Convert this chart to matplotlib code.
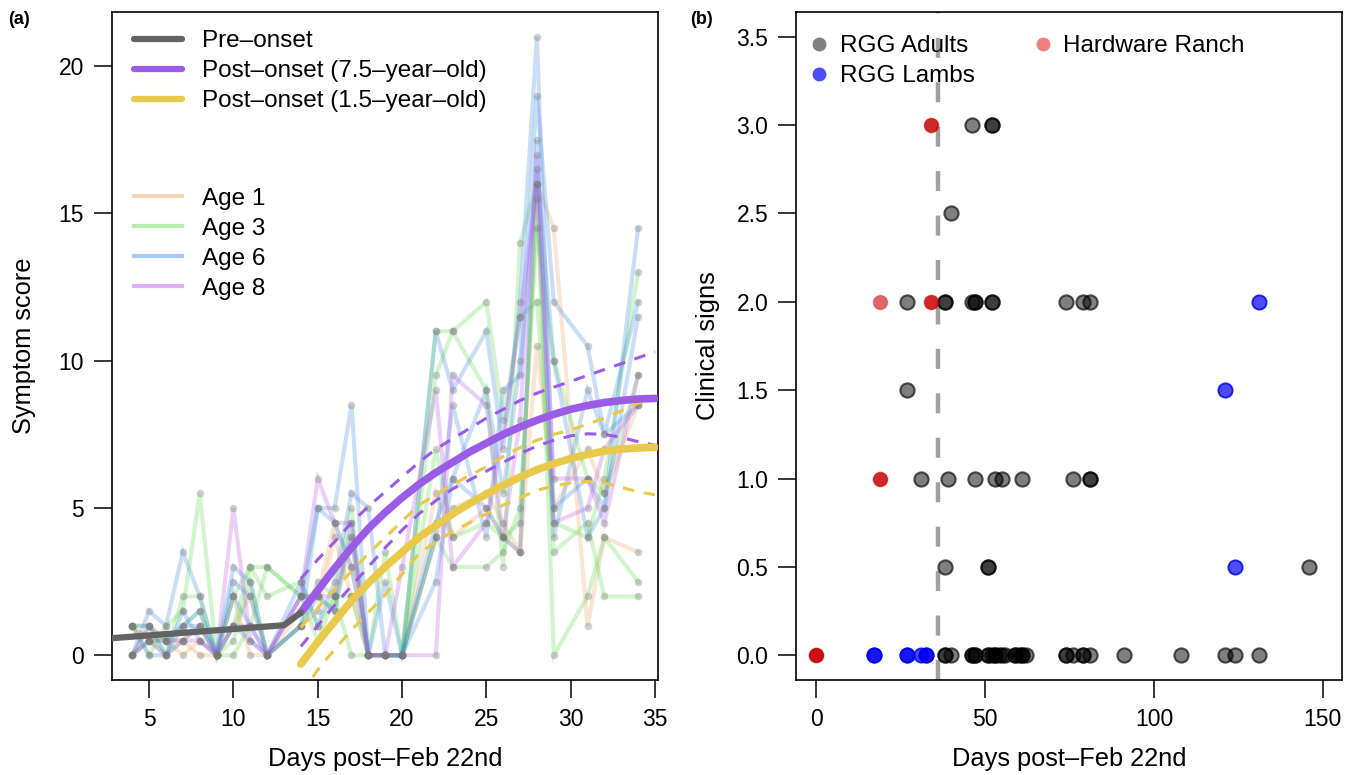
import matplotlib
matplotlib.use('Agg')
import matplotlib.pyplot as plt
from matplotlib.lines import Line2D

plt.rcParams['font.family'] = ['Liberation Sans', 'DejaVu Sans']

# ---------------- panel (a) data ----------------
days = [4, 5, 6, 7, 8, 9, 10, 11, 12, 14, 15, 16, 17, 18, 19, 20, 22, 23, 25, 26, 27, 28, 29, 31, 32, 34]

# individual animals, symptom score per day
age1 = [
    [1, 0.5, 0.5, 0, 0.5, 0, 1, 2, 0, 1.5, 2, 4.5, 3, 0, 0, 0, 5.5, 4, 5, 4, 3.5, 16, 14.5, 1, 4, 3.5],
    [1, 0.5, 0.5, 0.5, 0, 0, 2, 0, 0, 1, 1.5, 4, 2, 0, 0, 0, 4, 5, 5.5, 4.5, 3.5, 10.5, 5, 7, 5.5, 8.5],
]
age3 = [
    [1, 0, 1, 1.5, 5.5, 0, 1, 3, 2, 2.5, 1, 2, 5, 0, 0, 0, 9.5, 11, 9, 3, 14, 16, 0, 2, 4, 2.5],
    [0, 1, 0, 2, 2, 0, 2, 3, 3, 2, 2, 1.5, 4, 0, 3.5, 0, 7, 4, 4.5, 4, 4.5, 15.5, 3.5, 4.5, 2, 2],
    [0, 0.5, 0, 0.5, 1, 0, 0, 1, 3, 2, 0.5, 2, 0, 0, 0, 0, 11, 11, 12, 8, 11.5, 12, 4.5, 4, 6, 13],
    [1, 1, 0.5, 1, 1.5, 0, 0.5, 2.5, 0, 1, 2.5, 2, 2, 0, 0, 0, 4, 3, 3, 3.5, 5, 14.5, 10, 6, 5.5, 9.5],
]
age6 = [
    [0, 1.5, 1, 3.5, 2, 0, 2.5, 2, 0, 1, 5, 5, 8.5, 0, 0, 0, 11, 9, 11, 7, 12, 21, 5, 6, 5, 14.5],
    [1, 0, 0, 1, 1, 0, 3, 2.5, 0, 2.5, 1, 2.5, 5.5, 5, 0, 0, 4.5, 6, 9, 5.5, 10, 19, 12, 10.5, 7.5, 12],
    [0, 0.5, 0.5, 1, 1.5, 0, 1, 0.5, 0, 1, 2, 1.5, 4.5, 0, 2.5, 0, 4, 8.5, 4, 9, 9.5, 16.5, 10, 4, 5, 11.5],
    [1, 1, 0, 1.5, 0.5, 0, 2, 1, 0, 2, 5, 4.5, 3, 0, 0, 0, 2.5, 6, 5, 4, 3.5, 17.5, 4, 9, 7.5, 8.5],
]
age8 = [
    [0, 0.5, 0, 0.5, 0.5, 0, 5, 0.5, 0, 2, 6, 4.5, 4.5, 0, 0, 0, 0, 9.5, 8.5, 4, 8, 17, 6, 6, 4.5, 9.5],
    [0, 1, 0.5, 0.5, 1, 0, 1, 1, 0, 2, 2, 2, 4, 0, 0, 3, 9, 3, 4.5, 7.5, 11.5, 16, 4.5, 5, 7, 8.5],
]
age_labels = ['Age 1', 'Age 3', 'Age 6', 'Age 8']
age_colors = ['#F0A060', '#58D848', '#3A88E0', '#B850E8']

# fitted curves
pre_days = [2.8, 13, 14]
pre_vals = [0.58, 1.02, 1.45]

fit_days = [14, 15, 16, 17, 18, 19, 20, 21, 22, 23, 24, 25, 26, 27, 28, 29, 30, 31, 32, 33, 34, 35]
old_fit = [1.45, 2.2, 2.95, 3.65, 4.3, 4.85, 5.35, 5.8, 6.2, 6.55, 6.9, 7.2, 7.5, 7.75, 7.98, 8.18,
           8.35, 8.48, 8.58, 8.65, 8.7, 8.72]
old_hi = [2.6, 3.25, 3.85, 4.5, 5.05, 5.55, 6.05, 6.55, 7.0, 7.35, 7.7, 8.05, 8.35, 8.65, 8.9, 9.1,
          9.3, 9.5, 9.7, 9.9, 10.1, 10.3]
old_lo = [0.3, 1.0, 1.7, 2.35, 3.0, 3.65, 4.25, 4.8, 5.25, 5.65, 5.95, 6.25, 6.55, 6.85, 7.1, 7.3,
          7.45, 7.52, 7.5, 7.4, 7.25, 7.13]
young_fit = [-0.3, 0.45, 1.15, 1.85, 2.45, 3.0, 3.5, 4.0, 4.4, 4.8, 5.15, 5.47, 5.77, 6.05, 6.3, 6.5,
             6.68, 6.82, 6.93, 7.0, 7.04, 7.06]
young_hi = [0.95, 1.6, 2.25, 2.85, 3.45, 4.0, 4.55, 5.1, 5.45, 5.8, 6.1, 6.4, 6.75, 7.05, 7.3, 7.5,
            7.65, 7.85, 8.05, 8.3, 8.55, 8.75]
young_lo = [-1.35, -0.5, 0.2, 0.85, 1.45, 2.05, 2.75, 3.45, 3.85, 4.2, 4.5, 4.8, 5.1, 5.35, 5.6, 5.75,
            5.85, 5.9, 5.85, 5.7, 5.55, 5.45]

# ---------------- panel (b) data ----------------
adult_days = [38, 38, 40, 46, 46, 47, 47, 51, 51, 52, 53, 53, 54, 55, 56, 59, 59, 60, 61, 61, 62,
              74, 74, 76, 79, 79, 81, 91, 108, 121, 124, 131,
              38, 51, 51, 146,
              31, 39, 47, 53, 55, 61, 76, 81, 81,
              27,
              27, 38, 38, 46, 47, 47, 52, 52, 74, 79, 81,
              40,
              46, 52, 52]
adult_signs = [0, 0, 0, 0, 0, 0, 0, 0, 0, 0, 0, 0, 0, 0, 0, 0, 0, 0, 0, 0, 0,
               0, 0, 0, 0, 0, 0, 0, 0, 0, 0, 0,
               0.5, 0.5, 0.5, 0.5,
               1, 1, 1, 1, 1, 1, 1, 1, 1,
               1.5,
               2, 2, 2, 2, 2, 2, 2, 2, 2, 2, 2,
               2.5,
               3, 3, 3]
lamb_days = [17, 17, 27, 27, 31, 32.5, 32.5, 124, 121, 131]
lamb_signs = [0, 0, 0, 0, 0, 0, 0, 0.5, 1.5, 2]
ranch_days = [0, 0, 0, 19, 19, 19, 34, 34, 34, 34]
ranch_signs = [0, 0, 0, 1, 1, 2, 2, 2, 3, 3]
onset_day = 36

PURPLE = '#9A5BE6'
YELLOW = '#E8C94A'
GREY = '#636363'

fig = plt.figure(figsize=(13.54, 7.75), dpi=100)
axa = fig.add_axes([112 / 1354, 95 / 775, 546 / 1354, 668 / 775])
axb = fig.add_axes([796 / 1354, 95 / 775, 546 / 1354, 668 / 775])


def style_axes(ax):
    for s in ax.spines.values():
        s.set_linewidth(1.2)
    ax.tick_params(direction='out', length=13, width=1.1, labelsize=16.5, pad=7)


# ---- (a) ----
groups = [age1, age3, age6, age8]
for series, col in zip(groups, age_colors):
    for vals in series:
        axa.plot(days, vals, color=col, alpha=0.27, lw=3, solid_joinstyle='miter', zorder=2)
        axa.plot(days, vals, ls='none', marker='o', ms=5.5, color='#7a7a7a', alpha=0.35,
                 mec='none', zorder=3)

dash = (3.8, 3.2)
axa.plot(fit_days, old_hi, color=PURPLE, lw=2.2, ls=(0, dash), zorder=4)
axa.plot(fit_days, old_lo, color=PURPLE, lw=2.2, ls=(0, dash), zorder=4)
axa.plot(fit_days, young_hi, color=YELLOW, lw=2.2, ls=(0, dash), zorder=4)
axa.plot(fit_days, young_lo, color=YELLOW, lw=2.2, ls=(0, dash), zorder=4)
axa.plot(fit_days, young_fit, color=YELLOW, lw=5.5, solid_capstyle='round', zorder=5)
axa.plot(fit_days, old_fit, color=PURPLE, lw=5.5, solid_capstyle='round', zorder=5)
axa.plot(pre_days, pre_vals, color=GREY, lw=4.5, solid_capstyle='round', zorder=6)

axa.set_xlim(2.8, 35.18)
axa.set_ylim(-0.84, 21.84)
axa.set_xticks([5, 10, 15, 20, 25, 30, 35])
axa.set_yticks([0, 5, 10, 15, 20])
style_axes(axa)
axa.set_xlabel('Days post\u2013Feb 22nd', fontsize=18.3)
axa.set_ylabel('Symptom score', fontsize=18.3)
axa.xaxis.set_label_coords(0.5, -0.1)
axa.yaxis.set_label_coords(-0.14, 0.5)

fit_handles = [Line2D([], [], color=GREY, lw=4.5, solid_capstyle='round'),
               Line2D([], [], color=PURPLE, lw=4.5, solid_capstyle='round'),
               Line2D([], [], color=YELLOW, lw=4.5, solid_capstyle='round')]
leg1 = axa.legend(fit_handles, ['Pre\u2013onset', 'Post\u2013onset (7.5\u2013year\u2013old)',
                                'Post\u2013onset (1.5\u2013year\u2013old)'],
                  loc='upper left', bbox_to_anchor=(0.04, 0.973), frameon=False, fontsize=17.5,
                  handlelength=2.0, handletextpad=0.8, labelspacing=0.33, borderpad=0,
                  borderaxespad=0)
axa.add_artist(leg1)
age_handles = [Line2D([], [], color=c, lw=3, alpha=0.45) for c in age_colors]
axa.legend(age_handles, age_labels, loc='upper left', bbox_to_anchor=(0.04, 0.737),
           frameon=False, fontsize=17.5, handlelength=2.0, handletextpad=0.8,
           labelspacing=0.33, borderpad=0, borderaxespad=0)

# ---- (b) ----
axb.axvline(onset_day, color='#A0A0A0', lw=3.2, ls=(0, (4.5, 5.5)), zorder=1)
axb.scatter(adult_days, adult_signs, s=105, facecolor=(0, 0, 0, 0.5),
            edgecolor=(0, 0, 0, 0.65), linewidth=1.5, zorder=3)
axb.scatter(lamb_days, lamb_signs, s=105, facecolor=(0, 0, 0.95, 0.7),
            edgecolor=(0, 0, 0.95, 0.85), linewidth=1.3, zorder=3)
axb.scatter(ranch_days, ranch_signs, s=105, facecolor=(0.78, 0, 0, 0.6),
            edgecolor=(0.78, 0, 0, 0.3), linewidth=1.0, zorder=3)

axb.set_xlim(-6, 155.7)
axb.set_ylim(-0.14, 3.64)
axb.set_xticks([0, 50, 100, 150])
axb.set_yticks([0, 0.5, 1, 1.5, 2, 2.5, 3, 3.5])
axb.set_yticklabels(['0.0', '0.5', '1.0', '1.5', '2.0', '2.5', '3.0', '3.5'])
style_axes(axb)
axb.set_xlabel('Days post\u2013Feb 22nd', fontsize=18.3)
axb.set_ylabel('Clinical signs', fontsize=18.3)
axb.xaxis.set_label_coords(0.5, -0.1)
axb.yaxis.set_label_coords(-0.14, 0.5)

pop_handles = [Line2D([], [], ls='none', marker='o', ms=10, color='#808080', mec='none'),
               Line2D([], [], ls='none', marker='o', ms=10, color='#4D4DFF', mec='none'),
               Line2D([], [], ls='none', marker='o', ms=10, color='#F08080', mec='none')]
axb.legend(pop_handles, ['RGG Adults', 'RGG Lambs', 'Hardware Ranch'], ncol=2,
           loc='upper left', bbox_to_anchor=(0.02, 0.9655), frameon=False, fontsize=17.5,
           handlelength=1.0, handletextpad=0.35, labelspacing=0.33, columnspacing=2.3,
           borderpad=0, borderaxespad=0)

fig.text(8 / 1354, 1 - 20 / 775, '(a)', fontsize=13, fontweight='bold', va='center')
fig.text(690 / 1354, 1 - 20 / 775, '(b)', fontsize=13, fontweight='bold', va='center')

fig.savefig('out.png', dpi=100)
